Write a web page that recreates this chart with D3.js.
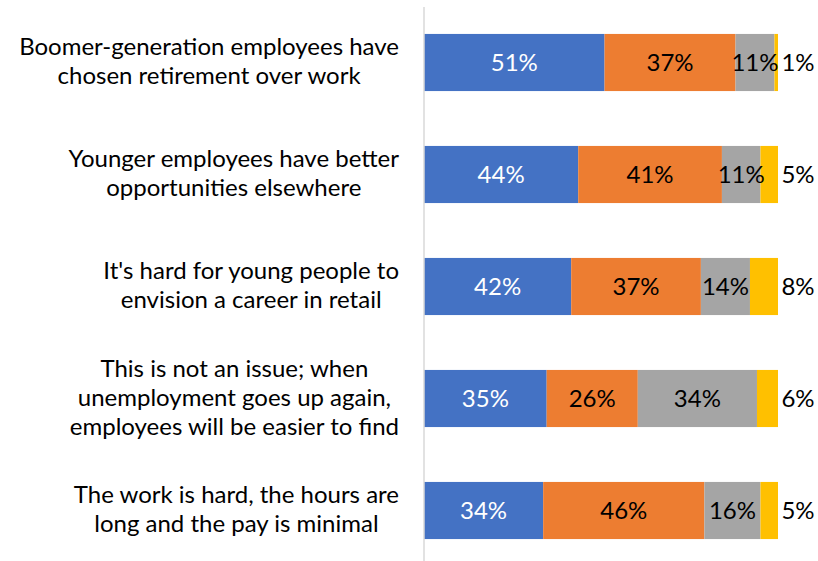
<!DOCTYPE html>
<html>
<head>
<meta charset="utf-8">
<script src="https://cdn.jsdelivr.net/npm/d3@7"></script>
<style>
  body { margin: 0; background: #fff; }
  svg { display: block; font-family: "Gill Sans MT", "Gill Sans", Lato, sans-serif; }
</style>
</head>
<body>
<script>
        const width = 818, height = 561;

        // data
        const categories = [
            "Boomer-generation employees have\nchosen retirement over work",
            "Younger employees have better\nopportunities elsewhere",
            "It's hard for young people to\nenvision a career in retail",
            "This is not an issue; when\nunemployment goes up again,\nemployees will be easier to find",
            "The work is hard, the hours are\nlong and the pay is minimal"
        ];
        const seriesNames = ["Agree strongly", "Agree somewhat", "Disagree somewhat", "Disagree strongly"];
        const agreeStrongly    = [51, 44, 42, 35, 34];
        const agreeSomewhat    = [37, 41, 37, 26, 46];
        const disagreeSomewhat = [11, 11, 14, 34, 16];
        const disagreeStrongly = [1, 5, 8, 6, 5];
        const colors = ["#4472C4", "#ED7D31", "#A5A5A5", "#FFC000"];

        const values = [agreeStrongly, agreeSomewhat, disagreeSomewhat, disagreeStrongly];
        const data = categories.map((c, i) => {
            const row = {category: c};
            seriesNames.forEach((s, j) => row[s] = values[j][i]);
            return row;
        });

        const margin = {top: 6.5, right: 40, bottom: 0, left: 424};

        const x = d3.scaleLinear()
            .domain([0, 1])
            .range([margin.left, 778]);
        const y = d3.scaleBand()
            .domain(categories)
            .range([margin.top, 566.5])
            .paddingInner(0.49)
            .paddingOuter(0.245);

        const stacked = d3.stack()
            .keys(seriesNames)
            .offset(d3.stackOffsetExpand)(data);

        const svg = d3.select("body").append("svg")
            .attr("width", width)
            .attr("height", height);

        // bars
        const layer = svg.append("g")
            .selectAll("g")
            .data(stacked)
            .join("g")
            .attr("fill", (d, i) => colors[i]);
        layer.selectAll("rect")
            .data(d => d)
            .join("rect")
            .attr("x", d => x(d[0]))
            .attr("y", d => y(d.data.category))
            .attr("width", d => x(d[1]) - x(d[0]))
            .attr("height", y.bandwidth());

        // value labels
        const fontSize = 24;
        stacked.forEach((s, i) => {
            svg.append("g")
                .attr("font-size", fontSize)
                .attr("text-anchor", "middle")
                .attr("fill", i === 0 ? "#fff" : "#000")
                .selectAll("text")
                .data(s)
                .join("text")
                .attr("x", d => i === 3 ? x(1) + 20 : (x(d[0]) + x(d[1])) / 2)
                .attr("y", d => y(d.data.category) + y.bandwidth() / 2)
                .attr("dy", "0.35em")
                .text(d => d.data[s.key] + "%");
        });

        // vertical axis line
        const yAxis = g => g
            .attr("transform", `translate(${x(0) - 0.5},0)`)
            .call(d3.axisLeft(y).tickSize(0).tickSizeOuter(0).tickFormat(""))
            .call(g => g.select(".domain").attr("stroke", "#d9d9d9").attr("stroke-width", 1.5))
            .call(g => g.selectAll(".tick").remove());
        svg.append("g").call(yAxis);

        // category labels: block right aligned, lines centred in the block
        const lineH = 29;
        categories.forEach(c => {
            const lines = c.split("\n");
            const g = svg.append("g").attr("font-size", fontSize).attr("fill", "#000");
            const texts = lines.map((l, k) => g.append("text")
                .attr("text-anchor", "middle")
                .attr("y", y(c) + y.bandwidth() / 2 + (k - (lines.length - 1) / 2) * lineH + 7)
                .text(l));
            const maxW = d3.max(texts, t => t.node().getComputedTextLength());
            texts.forEach(t => t.attr("x", 399 - maxW / 2));
        });
</script>
</body>
</html>
